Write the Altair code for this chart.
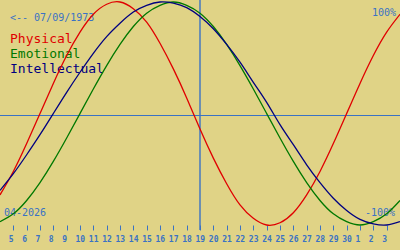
import altair as alt
import pandas as pd

# ---- data ----
# x index 0 = Apr 4 ... 30 = May 4 (2026); ticks shown for index 1..29
day_labels = [4, 5, 6, 7, 8, 9, 10, 11, 12, 13, 14, 15, 16, 17, 18, 19, 20,
              21, 22, 23, 24, 25, 26, 27, 28, 29, 30, 1, 2, 3, 4]
today_index = 15  # April 19

names = ["Physical", "Emotional", "Intellectual"]
colors = ["#e00000", "#007800", "#000080"]

physical = [-0.73, -0.52, -0.27, 0.00, 0.27, 0.52, 0.73, 0.89, 0.98, 1.00,
            0.94, 0.82, 0.63, 0.40, 0.14, -0.14, -0.40, -0.63, -0.82, -0.94,
            -1.00, -0.98, -0.89, -0.73, -0.52, -0.27, 0.00, 0.27, 0.52, 0.73,
            0.89]
emotional = [-0.97, -0.90, -0.78, -0.62, -0.43, -0.22, 0.00, 0.22, 0.43, 0.62,
             0.78, 0.90, 0.97, 1.00, 0.97, 0.90, 0.78, 0.62, 0.43, 0.22,
             0.00, -0.22, -0.43, -0.62, -0.78, -0.90, -0.97, -1.00, -0.97, -0.90,
             -0.78]
intellectual = [-0.69, -0.54, -0.37, -0.19, 0.00, 0.19, 0.37, 0.54, 0.69, 0.81,
                0.91, 0.97, 1.00, 0.99, 0.95, 0.87, 0.76, 0.62, 0.46, 0.28,
                0.10, -0.10, -0.28, -0.46, -0.62, -0.76, -0.87, -0.95, -0.99, -1.00,
                -0.97]

birth_text = "<-- 07/09/1973"
month_text = "04-2026"
top_text = "100%"
bottom_text = "-100%"

# ---- styling ----
BG = "#e0d386"
BLUE = "#3a72c4"
MONO = "DejaVu Sans Mono"

rows = []
for name, vals in zip(names, [physical, emotional, intellectual]):
    for i, v in enumerate(vals):
        rows.append({"i": i, "series": name, "v": v})
df = pd.DataFrame(rows)

label_array = "[" + ",".join("'%d'" % d for d in day_labels) + "]"

x_axis = alt.Axis(
    values=list(range(1, len(day_labels) - 1)),
    labelExpr=label_array + "[datum.value]",
    domain=False, grid=False, ticks=True, tickSize=5, tickWidth=1,
    tickColor=BLUE, labelColor=BLUE, labelFont=MONO, labelFontSize=8,
    labelFontWeight="bold", labelAlign="left", labelOffset=-5, labelPadding=5,
    labelOverlap=False, labelFlush=False, title=None,
)
x_scale = alt.Scale(domain=[0, len(day_labels) - 1], nice=False, zero=False)
y_enc = alt.Y("v:Q", scale=alt.Scale(domain=[-1, 1], range=[225, 2], nice=False, zero=False), axis=None)

one = pd.DataFrame({"k": [0]})

hline = alt.Chart(one).mark_rule(color=BLUE, strokeWidth=1.2).encode(
    x=alt.value(0), x2=alt.value(400), y=alt.value(115.5))
vline = alt.Chart(pd.DataFrame({"i": [today_index]})).mark_rule(color=BLUE, strokeWidth=1.4).encode(
    x=alt.X("i:Q", scale=x_scale, axis=x_axis), y=alt.value(0), y2=alt.value(230))


def txt(s, x, y, size, color, align="left"):
    return alt.Chart(one).mark_text(
        align=align, baseline="alphabetic", font=MONO, fontSize=size, color=color
    ).encode(x=alt.value(x), y=alt.value(y), text=alt.value(s))


texts = [
    txt(birth_text, 10, 20.5, 10, BLUE),
    txt(top_text, 396, 16, 10, BLUE, "right"),
    txt(bottom_text, 395, 215.5, 10, BLUE, "right"),
    txt(month_text, 4, 216, 10, BLUE),
    txt(names[0], 10, 42.7, 13, colors[0]),
    txt(names[1], 10, 57.7, 13, colors[1]),
    txt(names[2], 10, 72.7, 13, colors[2]),
]

lines = alt.Chart(df).mark_line(strokeWidth=1.3, interpolate="natural").encode(
    x=alt.X("i:Q", scale=x_scale, axis=x_axis), y=y_enc,
    color=alt.Color("series:N", scale=alt.Scale(domain=names, range=colors), legend=None),
)

chart = alt.layer(hline, vline, *texts, lines).properties(
    width=400, height=225, autosize="none",
    padding={"left": 0, "top": 0, "right": 0, "bottom": 25},
).configure(background=BG).configure_view(stroke=None)

chart.save("out.html", embed_options={"renderer": "svg", "actions": False})
